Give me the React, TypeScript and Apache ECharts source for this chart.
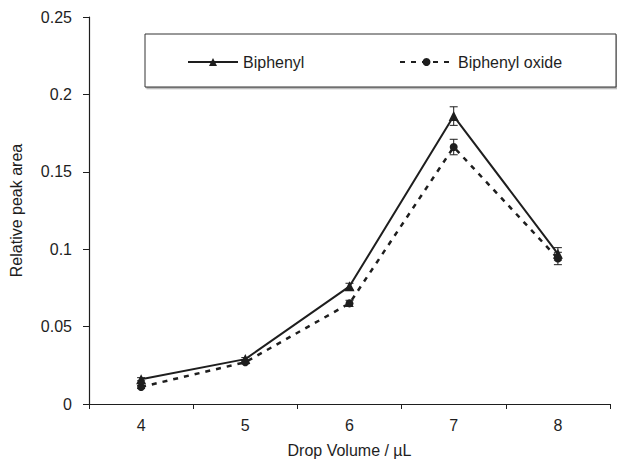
import React, { useEffect, useRef } from "react";
import * as echarts from "echarts";

const categories = ["4", "5", "6", "7", "8"];
const biphenyl = [0.016, 0.029, 0.076, 0.186, 0.097];
const biphenylErr = [0.001, 0.001, 0.002, 0.006, 0.004];
const biphenylOxide = [0.011, 0.027, 0.065, 0.166, 0.094];
const biphenylOxideErr = [0.001, 0.001, 0.002, 0.005, 0.004];

const INK = "#1e1e1e";
const FONT = "Liberation Sans, Arial, sans-serif";
const FS = 16;

function errData(vals: number[], errs: number[]) {
  return vals.map((v, i) => [i, v, errs[i]]);
}

const errorRender = (params: any, api: any) => {
  const i = api.value(0);
  const v = api.value(1);
  const e = api.value(2);
  const hi = api.coord([i, v + e]);
  const lo = api.coord([i, v - e]);
  const w = 4;
  const st = { stroke: INK, lineWidth: 1 };
  return {
    type: "group",
    children: [
      { type: "line", shape: { x1: hi[0], y1: hi[1], x2: lo[0], y2: lo[1] }, style: st },
      { type: "line", shape: { x1: hi[0] - w, y1: hi[1], x2: hi[0] + w, y2: hi[1] }, style: st },
      { type: "line", shape: { x1: lo[0] - w, y1: lo[1], x2: lo[0] + w, y2: lo[1] }, style: st },
    ],
  };
};

export default function App() {
  const ref = useRef<HTMLDivElement>(null);
  useEffect(() => {
    document.body.style.margin = "0";
    if (!ref.current) return;
    const chart = echarts.init(ref.current, undefined, { renderer: "svg" });
    chart.setOption({
      animation: false,
      backgroundColor: "#ffffff",
      textStyle: { fontFamily: FONT },
      grid: { left: 89, right: 7, top: 17, bottom: 58 },
      graphic: [
        {
          type: "rect",
          shape: { x: 145, y: 34, width: 471, height: 53 },
          style: {
            fill: "#ffffff",
            stroke: "#333333",
            lineWidth: 1,
            shadowColor: "rgba(0,0,0,0.35)",
            shadowOffsetX: 1.5,
            shadowOffsetY: 1.5,
            shadowBlur: 1,
          },
          z: 50,
        },
      ],
      legend: [
        {
          data: ["Biphenyl"],
          left: 187,
          top: 54,
          padding: 0,
          itemWidth: 50,
          itemHeight: 10,
          itemGap: 5,
          textStyle: { fontSize: FS, color: INK, fontFamily: FONT },
          z: 60,
        },
        {
          data: ["Biphenyl oxide"],
          left: 399,
          top: 54,
          padding: 0,
          itemWidth: 53,
          itemHeight: 10,
          textStyle: { fontSize: FS, color: INK, fontFamily: FONT },
          z: 60,
        },
      ],
      xAxis: {
        type: "category",
        data: categories,
        boundaryGap: true,
        name: "Drop Volume / µL",
        nameLocation: "middle",
        nameGap: 38,
        nameTextStyle: { fontSize: FS, color: INK, fontFamily: FONT },
        axisLine: { lineStyle: { color: INK, width: 1.2 } },
        axisTick: { show: true, inside: false, length: 5, lineStyle: { color: INK } },
        axisLabel: { fontSize: FS, color: INK, margin: 13, fontFamily: FONT },
        splitLine: { show: false },
      },
      yAxis: {
        type: "value",
        min: 0,
        max: 0.25,
        interval: 0.05,
        name: "Relative peak area",
        nameLocation: "middle",
        nameGap: 65,
        nameRotate: 90,
        nameTextStyle: { fontSize: FS, color: INK, fontFamily: FONT },
        axisLine: { show: true, lineStyle: { color: INK, width: 1.2 } },
        axisTick: { show: true, inside: false, length: 6, lineStyle: { color: INK } },
        axisLabel: { fontSize: FS, color: INK, margin: 17, fontFamily: FONT },
        splitLine: { show: false },
      },
      series: [
        {
          name: "Biphenyl",
          type: "line",
          data: biphenyl,
          symbol: "triangle",
          symbolSize: 10,
          itemStyle: { color: INK },
          lineStyle: { color: INK, width: 2 },
          z: 5,
        },
        {
          name: "Biphenyl oxide",
          type: "line",
          data: biphenylOxide,
          symbol: "circle",
          symbolSize: 8,
          itemStyle: { color: INK },
          lineStyle: { color: INK, width: 2.5, type: [5, 6] },
          z: 4,
        },
        {
          name: "errA",
          type: "custom",
          data: errData(biphenyl, biphenylErr),
          encode: { x: 0, y: 1 },
          renderItem: errorRender,
          z: 6,
        },
        {
          name: "errB",
          type: "custom",
          data: errData(biphenylOxide, biphenylOxideErr),
          encode: { x: 0, y: 1 },
          renderItem: errorRender,
          z: 6,
        },
      ],
    });
    return () => chart.dispose();
  }, []);
  return <div ref={ref} style={{ width: 617, height: 463 }} />;
}
